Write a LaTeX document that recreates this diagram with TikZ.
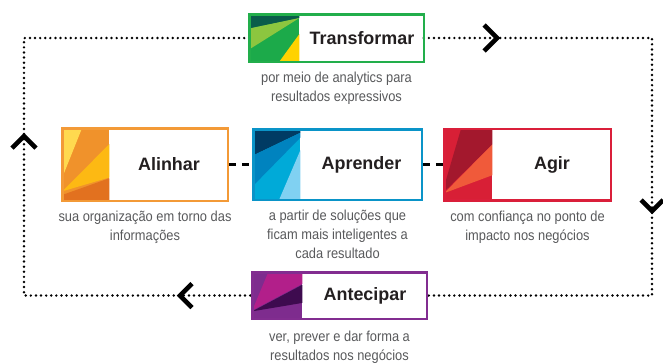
\documentclass[tikz,border=0pt]{standalone}
\usepackage{fontspec}
\setmainfont{Liberation Sans}
\newfontfamily\capfont[FakeStretch=0.89]{Liberation Sans}
\usetikzlibrary{calc}
\definecolor{txt}{HTML}{231F20}
\definecolor{captxt}{HTML}{58595B}
% green
\definecolor{gB}{HTML}{22AE4B}
\definecolor{gBase}{HTML}{1CAA4A}
\definecolor{gDark}{HTML}{0A5C4A}
\definecolor{gLight}{HTML}{8CC63F}
\definecolor{gYel}{HTML}{FFD200}
% orange
\definecolor{oB}{HTML}{F39A37}
\definecolor{oBase}{HTML}{F0922B}
\definecolor{oLight}{HTML}{FFD94F}
\definecolor{oGold}{HTML}{FDB913}
\definecolor{oDark}{HTML}{E2711F}
% blue
\definecolor{bB}{HTML}{0A94C8}
\definecolor{bBase}{HTML}{00AAD8}
\definecolor{bNavy}{HTML}{003B64}
\definecolor{bMid}{HTML}{0083BF}
\definecolor{bLight}{HTML}{80D1F2}
% red
\definecolor{rB}{HTML}{DA1F3A}
\definecolor{rBase}{HTML}{D81F36}
\definecolor{rDark}{HTML}{A3182D}
\definecolor{rOr}{HTML}{F05A3A}
% purple
\definecolor{pB}{HTML}{822D90}
\definecolor{pBase}{HTML}{7E2C8E}
\definecolor{pMag}{HTML}{B21F8A}
\definecolor{pDark}{HTML}{3E0B4F}
\begin{document}
\begin{tikzpicture}[x=1bp,y=-1bp,
  stagebox/.style={draw=none,fill=white,inner sep=0pt,outer sep=0pt},
  border/.style={line width=2.5bp},
  stagetitle/.style={font=\bfseries\fontsize{18}{20}\selectfont,text=txt,inner sep=0pt},
  captext/.style={font=\capfont\fontsize{14.5}{19}\selectfont,text=captxt,align=center,inner sep=0pt,anchor=north},
  dotline/.style={line width=2.7bp,dash pattern=on 0bp off 5.1bp,line cap=round},
  dashline/.style={line width=2.6bp,dash pattern=on 7bp off 5.5bp,dash phase=11bp},
  chev/.style={line width=4.6bp,miter limit=10}]
\useasboundingbox (0,0) rectangle (663,362);
% corners of the loop
\coordinate (tl) at (24,38);
\coordinate (bl) at (24,295.5);
\coordinate (tr) at (652,38);
\coordinate (br) at (652,295.5);
% boxes
\node[stagebox,minimum width=174.5bp,minimum height=47.5bp] (T) at (336.5,38) {};
\node[stagebox,minimum width=165.5bp,minimum height=72.5bp] (A) at (145,164.5) {};
\node[stagebox,minimum width=168.5bp,minimum height=70.5bp] (P) at (337.5,164.5) {};
\node[stagebox,minimum width=166.5bp,minimum height=71.5bp] (G) at (527.5,164.5) {};
\node[stagebox,minimum width=174.5bp,minimum height=46.5bp] (N) at (339.5,295.5) {};
% dotted loop
\draw[dotline] (T.west) -- (tl) -- (bl) -- (N.west);
\draw[dotline] (T.east) -- (tr) -- (br) -- (N.east);
% dashed links
\draw[dashline] (A.east) -- (P.west);
\draw[dashline] (P.east) -- (G.west);
% chevrons
\draw[chev] (484,25) -- (497,38) -- (484,51);
\draw[chev] (12,148) -- (24,136) -- (36,148);
\draw[chev] (641,200) -- (652,211) -- (663,200);
\draw[chev] (192,283.5) -- (180,295.5) -- (192,307.5);
% panels: Transformar
\begin{scope}[shift={(T.north west)},x=50bp,y=-47.5bp]
  \fill[gBase] (0,0) rectangle (1,1);
  \fill[gDark] (0,0) -- (1,0) -- (1,0.08) -- (0,0.3) -- cycle;
  \fill[gLight] (0,0.3) -- (1,0.08) -- (0,0.74) -- cycle;
  \fill[gYel] (0.6,1) -- (1,1) -- (1,0.42) -- cycle;
\end{scope}
% Alinhar
\begin{scope}[shift={(A.north west)},x=47bp,y=-72.5bp]
  \fill[oBase] (0,0) rectangle (1,1);
  \fill[oLight] (0,0) -- (0.42,0) -- (0,0.68) -- cycle;
  \fill[oGold] (0,0.87) -- (1,0.22) -- (1,0.68) -- cycle;
  \fill[oDark] (0,1) -- (1,1) -- (1,0.69) -- (0,0.92) -- cycle;
\end{scope}
% Aprender
\begin{scope}[shift={(P.north west)},x=47bp,y=-70.5bp]
  \fill[bBase] (0,0) rectangle (1,1);
  \fill[bNavy] (0,0) -- (1,0) -- (1,0.05) -- (0,0.37) -- cycle;
  \fill[bMid] (0,0.37) -- (1,0.05) -- (1,0.12) -- (0,0.8) -- cycle;
  \fill[bLight] (0.55,1) -- (1,1) -- (1,0.3) -- cycle;
\end{scope}
% Agir
\begin{scope}[shift={(G.north west)},x=48bp,y=-71.5bp]
  \fill[rBase] (0,0) rectangle (1,1);
  \fill[rDark] (0.35,0) -- (1,0) -- (1,0.22) -- (0,0.88) -- (0,0.8) -- cycle;
  \fill[rOr] (0,0.9) -- (1,0.22) -- (1,0.65) -- cycle;
\end{scope}
% Antecipar
\begin{scope}[shift={(N.north west)},x=50bp,y=-46.5bp]
  \fill[pBase] (0,0) rectangle (1,1);
  \fill[pMag] (0.32,0) -- (1,0) -- (1,0.25) -- (0,0.82) -- cycle;
  \fill[pDark] (0,0.84) -- (1,0.27) -- (1,0.66) -- cycle;
\end{scope}
% borders
\draw[border,gB] (T.north west) rectangle (T.south east);
\draw[border,oB] (A.north west) rectangle (A.south east);
\draw[border,bB] (P.north west) rectangle (P.south east);
\draw[border,rB] (G.north west) rectangle (G.south east);
\draw[border,pB] (N.north west) rectangle (N.south east);
% titles
\node[stagetitle] (Tt) at ($(T.center)+(25.5,0)$) {Transformar};
\node[stagetitle] (At) at ($(A.center)+(24,0)$) {Alinhar};
\node[stagetitle] (Pt) at ($(P.center)+(24,0)$) {Aprender};
\node[stagetitle] (Gt) at ($(G.center)+(24.5,0)$) {Agir};
\node[stagetitle] (Nt) at ($(N.center)+(25.5,0)$) {Antecipar};
% captions
\node[captext] (Tc) at ($(T.south)+(0,10.5)$) {por meio de analytics para\\resultados expressivos};
\node[captext] (Ac) at ($(A.south)+(0,10.5)$) {sua organização em torno das\\informações};
\node[captext] (Pc) at ($(P.south)+(0,10.5)$) {a partir de soluções que\\ficam mais inteligentes a\\cada resultado};
\node[captext] (Gc) at ($(G.south)+(0,10.5)$) {com confiança no ponto de\\impacto nos negócios};
\node[captext] (Nc) at ($(N.south)+(0,12)$) {ver, prever e dar forma a\\resultados nos negócios};
\end{tikzpicture}
\end{document}
